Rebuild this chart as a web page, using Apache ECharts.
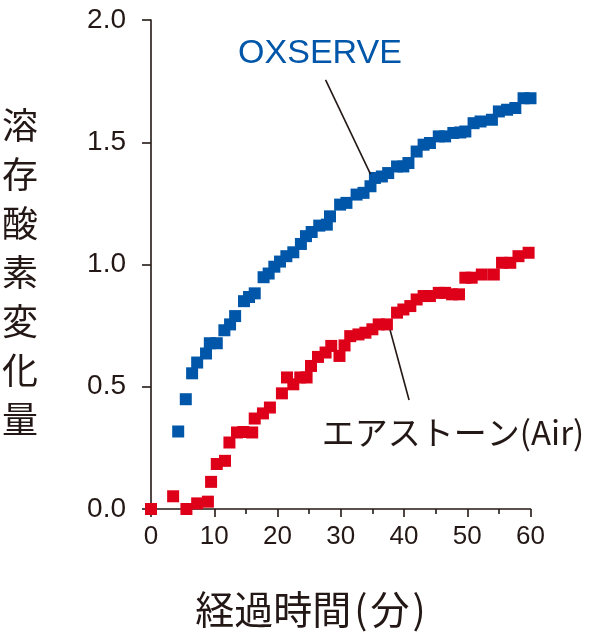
<!DOCTYPE html>
<html>
<head>
<meta charset="utf-8">
<style>html,body{margin:0;padding:0;background:#fff;}#c{width:599px;height:644px;}</style>
<script src="https://cdn.jsdelivr.net/npm/echarts/dist/echarts.min.js"></script>
</head>
<body>
<div id="c"></div>
<script>
// ---- data ----
const xTicks = [0, 10, 20, 30, 40, 50, 60];
const yTicks = [0.0, 0.5, 1.0, 1.5, 2.0];

const oxserveX = [4.3,5.5,6.5,7.3,8.7,9.3,10.4,11.6,12.5,13.3,14.7,15.5,16.4,17.8,18.6,19.5,20.4,21.4,22.5,23.7,24.5,25.4,26.6,27.8,28.3,29.9,30.9,32.5,33.6,34.7,35.4,36.5,37.5,38.9,39.9,40.7,42.0,43.1,44.1,45.5,46.5,47.8,48.9,49.7,51.0,52.1,53.9,55.0,56.3,57.6,58.9,60.0];
const oxserveY = [0.317,0.449,0.555,0.599,0.636,0.678,0.678,0.731,0.755,0.789,0.850,0.867,0.882,0.948,0.963,0.991,1.012,1.034,1.050,1.084,1.116,1.133,1.159,1.163,1.197,1.245,1.252,1.286,1.293,1.320,1.354,1.360,1.374,1.401,1.401,1.415,1.462,1.490,1.497,1.524,1.524,1.538,1.540,1.544,1.578,1.585,1.592,1.626,1.633,1.640,1.680,1.680];

const airX = [0.0,3.5,5.6,7.3,9.0,9.5,10.4,11.7,12.4,13.6,14.6,16.0,16.4,17.7,18.8,20.7,21.5,22.5,23.6,24.6,25.3,26.4,27.6,28.5,29.8,30.6,31.5,32.8,33.9,35.0,36.0,37.3,38.9,39.9,41.0,42.0,43.1,44.1,45.5,46.5,47.6,48.7,49.7,50.7,52.3,54.2,55.5,56.8,58.1,59.7];
const airY = [0.0,0.052,0.0,0.023,0.030,0.111,0.184,0.197,0.272,0.313,0.315,0.313,0.370,0.391,0.415,0.473,0.538,0.510,0.538,0.538,0.585,0.622,0.640,0.667,0.626,0.669,0.707,0.714,0.721,0.735,0.755,0.755,0.803,0.816,0.830,0.857,0.871,0.871,0.884,0.884,0.878,0.878,0.946,0.946,0.959,0.959,1.007,1.007,1.034,1.048];

const oxLeader = [[27.6, 1.755], [34.7, 1.370]];
const airLeader = [[37.8, 0.732], [40.8, 0.446]];

const seriesNames = ['OXSERVE', 'エアストーン(Air)'];
const xNameParts = ['経過時間', '(', '分', ')'];
const yName = '溶存酸素変化量';

// ---- chart ----
const INK = '#231815';
const BLUE = '#0056A8';
const RED = '#DE0019';
const chart = echarts.init(document.getElementById('c'), null, {renderer: 'canvas'});

function zip(a, b) { return a.map((v, i) => [v, b[i]]); }

const option = {
  animation: false,
  backgroundColor: '#fff',
  grid: {left: 151, right: 68.5, top: 20, bottom: 135, containLabel: false},
  xAxis: [{
    type: 'value', min: xTicks[0], max: xTicks[xTicks.length - 1], interval: 10,
    axisLine: {show: true, onZero: false, lineStyle: {color: INK, width: 1.6}},
    axisTick: {show: false}, axisLabel: {show: false}, splitLine: {show: false}
  }, {
    type: 'value', min: xTicks[0], max: xTicks[xTicks.length - 1], interval: 10,
    position: 'bottom', offset: 3,
    axisLine: {show: false},
    axisTick: {show: true, inside: false, length: 8, lineStyle: {color: INK, width: 1.6}},
    minorTick: {show: true, splitNumber: 2, length: 5, lineStyle: {color: INK, width: 1.6}},
    axisLabel: {show: true, margin: 12, color: INK, fontSize: 26, fontFamily: 'Liberation Sans, Arial, sans-serif'},
    splitLine: {show: false}
  }],
  yAxis: {
    type: 'value', min: yTicks[0], max: yTicks[yTicks.length - 1], interval: 0.5,
    axisLine: {show: true, onZero: false, lineStyle: {color: INK, width: 1.6}},
    axisTick: {show: true, inside: false, length: 9, lineStyle: {color: INK, width: 1.6}},
    axisLabel: {margin: 25, color: INK, fontSize: 28, fontFamily: 'Liberation Sans, Arial, sans-serif',
      formatter: v => v.toFixed(1)},
    splitLine: {show: false}
  },
  series: [{
    name: seriesNames[0], type: 'scatter', symbol: 'rect', symbolSize: 12,
    itemStyle: {color: BLUE, opacity: 1}, data: zip(oxserveX, oxserveY),
    markLine: {silent: true, symbol: 'none', label: {show: false},
      lineStyle: {color: INK, width: 1.6, type: 'solid', opacity: 1},
      data: [[{coord: oxLeader[0]}, {coord: oxLeader[1]}]]}
  }, {
    name: seriesNames[1], type: 'scatter', symbol: 'rect', symbolSize: 12,
    itemStyle: {color: RED, opacity: 1}, data: zip(airX, airY),
    markLine: {silent: true, symbol: 'none', label: {show: false},
      lineStyle: {color: INK, width: 1.6, type: 'solid', opacity: 1},
      data: [[{coord: airLeader[0]}, {coord: airLeader[1]}]]}
  }],
  graphic: [{
    type: 'text', x: 20, y: 272,
    style: {text: yName.split('').join('\n'), fill: INK, font: '36px "Noto Sans CJK JP"',
      lineHeight: 49, align: 'center', verticalAlign: 'middle'}
  }, {
    type: 'text', x: 312, y: 609,
    style: {
      text: '{a|' + xNameParts[0] + '}{p|' + xNameParts[1] + '}{a|' + xNameParts[2] + '}{p|' + xNameParts[3] + '}',
      align: 'center', verticalAlign: 'middle',
      rich: {
        a: {fill: INK, fontSize: 39, fontFamily: 'Noto Sans CJK JP', color: INK},
        p: {fill: INK, fontSize: 39, fontFamily: 'Noto Sans CJK JP', color: INK, padding: [0, 3, 0, 3]}
      }
    }
  }, {
    type: 'text', x: 320, y: 54,
    style: {text: seriesNames[0], fill: BLUE, font: '34px "Liberation Sans", Arial, sans-serif', align: 'center', verticalAlign: 'middle'}
  }, {
    type: 'text', x: 453, y: 432,
    style: {text: seriesNames[1], fill: INK, font: '33px "Noto Sans CJK JP"', align: 'center', verticalAlign: 'middle'}
  }]
};
chart.setOption(option);
</script>
</body>
</html>
